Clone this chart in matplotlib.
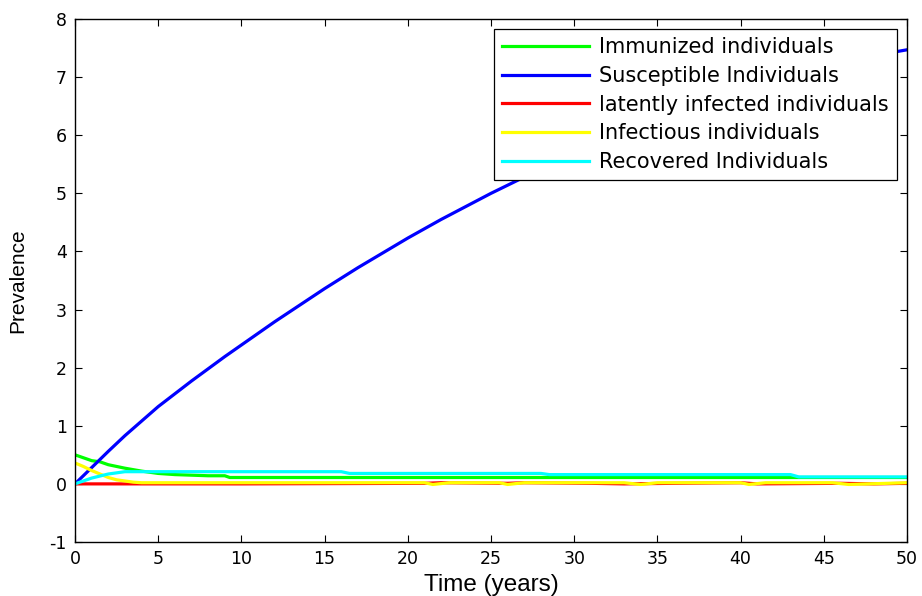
import numpy as np
import matplotlib
matplotlib.use('Agg')
from matplotlib import pyplot as plt

plt.rcParams['axes.unicode_minus'] = False

# data
years = list(range(0, 51))
susceptible = [0.00, 0.28, 0.56, 0.83, 1.08, 1.33, 1.55, 1.77, 1.98, 2.19,
               2.39, 2.59, 2.79, 2.98, 3.17, 3.36, 3.54, 3.72, 3.89, 4.06,
               4.23, 4.39, 4.55, 4.70, 4.85, 5.00, 5.14, 5.28, 5.42, 5.55,
               5.68, 5.80, 5.92, 6.04, 6.15, 6.26, 6.37, 6.47, 6.57, 6.66,
               6.75, 6.84, 6.93, 7.01, 7.09, 7.17, 7.24, 7.31, 7.37, 7.42,
               7.47]

immunized_t = [0, 0.5, 1, 1.5, 2, 2.5, 3, 4, 5, 6, 7, 8, 9, 9.3, 50]
immunized = [0.50, 0.45, 0.40, 0.38, 0.33, 0.30, 0.27, 0.22, 0.18, 0.16,
             0.15, 0.14, 0.14, 0.11, 0.11]

latent_t = [0, 10, 21, 22, 26, 27, 31, 33, 36, 40, 41, 46, 48, 50]
latent = [0.00, 0.00, 0.01, 0.02, 0.01, 0.02, 0.01, 0.00, 0.01, 0.02, 0.00,
          0.01, 0.00, 0.01]

infectious_t = [0, 0.5, 1, 1.5, 2, 2.5, 3, 3.5, 4, 21, 21.5, 22.5, 25.5, 26,
                27, 33, 34, 35, 40, 40.5, 41.5, 45.5, 46.5, 50]
infectious = [0.36, 0.30, 0.23, 0.17, 0.11, 0.07, 0.05, 0.03, 0.02, 0.02,
              -0.01, 0.02, 0.02, -0.01, 0.02, 0.02, -0.01, 0.02, 0.02, -0.01,
              0.02, 0.02, -0.01, 0.02]

recovered_t = [0, 1, 2, 3, 16, 16.5, 28, 28.5, 43, 43.5, 50]
recovered = [0.00, 0.10, 0.17, 0.21, 0.21, 0.18, 0.18, 0.16, 0.16, 0.12, 0.12]

labels = ['Immunized individuals', 'Susceptible Individuals',
          'latently infected individuals', 'Infectious individuals',
          'Recovered Individuals']

x_ticks = list(range(0, 51, 5))
y_ticks = list(range(-1, 9))

fig = plt.figure(figsize=(9.22, 5.96), dpi=100)
ax = fig.add_axes([75 / 922, 1 - 542 / 596, 832 / 922, 523 / 596])

lw = 2.3
ax.plot(immunized_t, immunized, color=(0, 1, 0), lw=lw, label=labels[0])
ax.plot(years, susceptible, color=(0, 0, 1), lw=lw, label=labels[1])
ax.plot(latent_t, latent, color=(1, 0, 0), lw=lw, label=labels[2])
ax.plot(infectious_t, infectious, color=(1, 1, 0), lw=lw, label=labels[3])
ax.plot(recovered_t, recovered, color=(0, 1, 1), lw=lw, label=labels[4])

ax.set_xlim(0, 50)
ax.set_ylim(-1, 8)
ax.set_xticks(x_ticks)
ax.set_yticks(y_ticks)
ax.tick_params(direction='in', length=5, width=0.8, top=True, right=True,
               labelsize=12.5, pad=6)
for sp in ax.spines.values():
    sp.set_linewidth(1.0)

ax.set_xlabel('Time (years)', family='Liberation Sans', size=17.5, va='center')
ax.xaxis.set_label_coords(0.5, -(585 - 542) / 523)
ax.set_ylabel('Prevalence', family='Liberation Sans', size=15, va='center')
ax.yaxis.set_label_coords(-(75 - 18) / 832, 0.5)

leg = ax.legend(loc='upper right', bbox_to_anchor=(897 / 922, 1 - 29 / 596),
                bbox_transform=fig.transFigure, fontsize=15, frameon=True,
                fancybox=False, edgecolor='black', framealpha=1,
                handlelength=4.2, handletextpad=0.48, labelspacing=0.42,
                borderpad=0.39, borderaxespad=0)
leg.get_frame().set_linewidth(0.9)

fig.savefig('out.png', dpi=100)
